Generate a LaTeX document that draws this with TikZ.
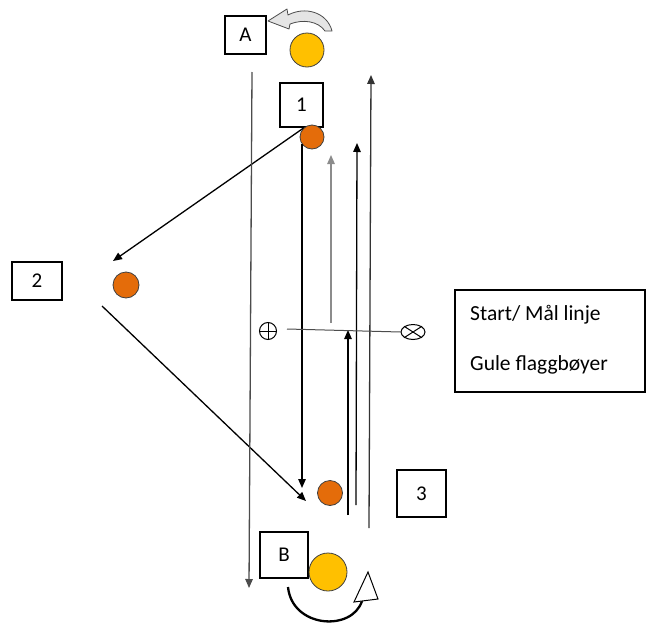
\documentclass[tikz,border=0pt]{standalone}
\usepackage{fontspec}
\setmainfont{Carlito}
\usetikzlibrary{arrows.meta,shapes.geometric}
\definecolor{buoyyellow}{RGB}{255,192,0}
\definecolor{ballorange}{RGB}{228,108,10}
\tikzset{
  lbl/.style={draw, line width=1.2pt, inner sep=0pt, font=\fontsize{21}{25}\selectfont},
  legend/.style={inner sep=0pt, font=\fontsize{21.5}{26}\selectfont},
  buoy/.style={circle, draw=black!75, line width=0.8pt, fill=buoyyellow, inner sep=0pt},
  ball/.style={circle, draw=black!75, line width=0.8pt, fill=ballorange, inner sep=0pt},
  run/.style={line width=1.3pt, -{Triangle[length=9pt,width=7.5pt]}},
}
\begin{document}
\begin{tikzpicture}[x=1pt,y=-1pt]
  \useasboundingbox (0,0) rectangle (648,624);
  \draw
    (245.5,35) node[lbl, minimum width=41pt, minimum height=38pt] (A){A}
    (301.5,105) node[lbl, minimum width=43pt, minimum height=44pt] (1){1}
    (37,281) node[lbl, minimum width=50pt, minimum height=38pt] (2){2}
    (421.5,493.5) node[lbl, minimum width=49pt, minimum height=47pt] (3){3}
    (284,555) node[lbl, minimum width=48pt, minimum height=46pt] (B){B}
    (307,50) node[buoy, minimum size=34pt] (yA){}
    (328,572) node[buoy, minimum size=38pt] (yB){}
    (312,137) node[ball, minimum size=24pt] (o1){}
    (126,285) node[ball, minimum size=26pt] (o2){}
    (330,493) node[ball, minimum size=25pt] (o3){};
  \node[draw, line width=1.2pt, minimum width=190pt, minimum height=102pt, inner sep=0pt] (key) at (550,341) {};
  \node[legend, anchor=base west] (key1) at (470,320) {Start/ Mål linje};
  \node[legend, anchor=base west] (key2) at (470,370) {Gule flaggbøyer};
  \node[draw, circle, minimum size=17pt, inner sep=0pt, line width=1pt] (plus) at (268,331) {};
  \draw[line width=1pt] (plus.north) -- (plus.south) (plus.west) -- (plus.east);
  \node[draw, ellipse, minimum width=24pt, minimum height=15pt, inner sep=0pt, line width=1pt] (cross) at (413,332) {};
  \draw[line width=1pt] (cross.north west) -- (cross.south east) (cross.north east) -- (cross.south west);
  \coordinate (t2) at (113,261);
  \coordinate (s2) at (102,306);
  \coordinate (t3) at (306,501);
  \coordinate (d1) at (302,144);
  \coordinate (d2) at (302,488);
  \coordinate (l1) at (252,72);
  \coordinate (l2) at (249,588);
  \coordinate (r1) at (369,528);
  \coordinate (r2) at (371,75);
  \coordinate (m1) at (348,515);
  \coordinate (m2) at (348,330);
  \coordinate (n1) at (356,505);
  \coordinate (n2) at (357,143);
  \coordinate (g1) at (331,323);
  \coordinate (g2) at (331,155);
  \coordinate (h1) at (287,329);
  \begin{scope}[run]
    \draw (o1.north west) to (t2);
    \draw (s2) to (t3);
    \draw (d1) to (d2);
    \draw[black!70] (l1) to (l2);
    \draw[black!80] (r1) to (r2);
    \draw (m1) to (m2);
    \draw (n1) to (n2);
    \draw[black!45] (g1) to (g2);
  \end{scope}
  \draw[black!70, line width=1pt] (h1) -- (cross.west);
  \draw[fill=gray!20, draw=black!70, line width=0.8pt, line join=round]
    (288,15) .. controls (305,6) and (327,12) .. (332,31)
    -- (325,31) .. controls (318,21) and (303,19) .. (290,24)
    -- (289,29) -- (268,21) -- (287,9) -- cycle;
  \draw[line width=2.3pt] (288,587) .. controls (292,628) and (352,632) .. (362,601);
  \draw[line width=1pt, fill=white] (368,572) -- (354,602) -- (378,599) -- cycle;
\end{tikzpicture}
\end{document}
